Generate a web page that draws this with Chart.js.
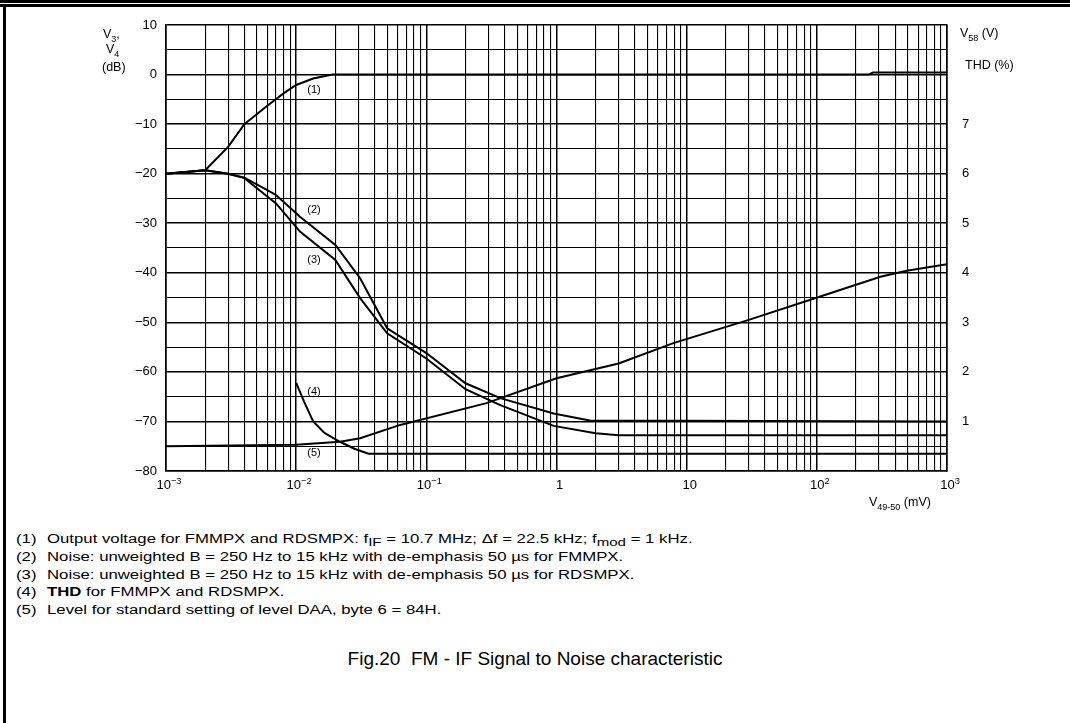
<!DOCTYPE html>
<html>
<head>
<meta charset="utf-8">
<script src="https://cdn.jsdelivr.net/npm/chart.js@4.4.1/dist/chart.umd.min.js"></script>
<style>
  body{margin:0;background:#fff;}
  #page{position:relative;width:1070px;height:723px;overflow:hidden;background:#fff;
        font-family:"Liberation Sans",Arial,Helvetica,sans-serif;color:#000;}
  .rule{position:absolute;background:#000;}
  #plot{position:absolute;left:0;top:0;}
  .note{position:absolute;font-size:12.5px;line-height:14px;white-space:nowrap;
        transform-origin:0 0;transform:scaleX(1.34);}
  .note sub{font-size:0.9em;vertical-align:-0.25em;line-height:0;}
  #title{position:absolute;left:0;top:648px;width:1070px;text-align:center;
         font-size:19px;line-height:21px;white-space:nowrap;}
</style>
</head>
<body>
<div id="page">
  <div class="rule" style="left:0;top:0;width:1070px;height:3px"></div>
  <div class="rule" style="left:0;top:4px;width:1070px;height:3px"></div>
  <div class="rule" style="left:3px;top:4px;width:3px;height:719px"></div>
  <canvas id="plot" width="1070" height="520"></canvas>

  <div class="note" style="left:16px;top:532px">(1)</div>
  <div class="note" style="left:47px;top:532px">Output voltage for FMMPX and RDSMPX: f<sub>IF</sub> = 10.7 MHz; &Delta;f = 22.5 kHz; f<sub>mod</sub> = 1 kHz.</div>
  <div class="note" style="left:16px;top:550px">(2)</div>
  <div class="note" style="left:47px;top:550px">Noise: unweighted B = 250 Hz to 15 kHz with de-emphasis 50 &micro;s for FMMPX.</div>
  <div class="note" style="left:16px;top:568px">(3)</div>
  <div class="note" style="left:47px;top:568px">Noise: unweighted B = 250 Hz to 15 kHz with de-emphasis 50 &micro;s for RDSMPX.</div>
  <div class="note" style="left:16px;top:585px">(4)</div>
  <div class="note" style="left:47px;top:585px"><b>THD</b> for FMMPX and RDSMPX.</div>
  <div class="note" style="left:16px;top:603px">(5)</div>
  <div class="note" style="left:47px;top:603px">Level for standard setting of level DAA, byte 6 = 84H.</div>

  <div id="title">Fig.20&nbsp;&nbsp;FM - IF Signal to Noise characteristic</div>
</div>

<script>
// V49-50 in mV (x), V3/V4 in dB (y)
const c1X = [0.001, 0.002, 0.003, 0.004, 0.006, 0.008, 0.01, 0.0135, 0.019, 250, 270, 1000];
const c1Y = [-20, -19.3, -14.6, -10, -6.3, -3.8, -2.1, -0.8, 0, 0, 0.4, 0.4];

const c2X = [0.001, 0.002, 0.003, 0.004, 0.006, 0.007, 0.0107, 0.02, 0.031, 0.05, 0.1, 0.2, 0.37, 0.95, 1.8, 1000];
const c2Y = [-20, -19.3, -20, -20.8, -23.3, -24.3, -28.7, -34.4, -41.1, -51.2, -56.2, -62.3, -65.3, -68.4, -69.8, -70];

const c3X = [0.001, 0.002, 0.003, 0.004, 0.006, 0.007, 0.0107, 0.02, 0.031, 0.05, 0.1, 0.2, 0.37, 0.95, 2.0, 3.0, 1000];
const c3Y = [-20, -19.3, -20, -20.9, -24.6, -26, -31.7, -37.4, -45.1, -52.2, -57.3, -63.5, -66.7, -70.9, -72.4, -72.8, -72.8];

const c4X = [0.01, 0.0115, 0.0135, 0.0165, 0.0217, 0.028, 0.036, 1000];
const c4Y = [-62.2, -66, -70, -72.3, -74.1, -75.5, -76.5, -76.5];

const c5X = [0.001, 0.01, 0.0217, 0.031, 0.063, 0.29, 1.0, 3.0, 7.9, 30, 98, 308, 490, 1000];
const c5Y = [-75, -74.7, -74.1, -73.4, -70.7, -66.3, -61.3, -58.3, -54.2, -49.5, -45.1, -40.8, -39.6, -38.3];

const curveNames = ['(1)', '(2)', '(3)', '(4)', '(5)'];
const curveLabelX = [0.0137, 0.0137, 0.0137, 0.0137, 0.0137];
const curveLabelY = [-3.1, -27.3, -37.4, -64.0, -76.4];

const xTickValues = [0.001, 0.01, 0.1, 1, 10, 100, 1000];
const xTickBase = ['10', '10', '10', '1', '10', '10', '10'];
const xTickExp = ['\u22123', '\u22122', '\u22121', '', '', '2', '3'];

const yMin = -80, yMax = 10;
// right axis: THD (%) labels sit on the -70 .. -10 dB lines
const thdDb = [-70, -60, -50, -40, -30, -20, -10];
const thdLabels = ['1', '2', '3', '4', '5', '6', '7'];

const FONT = '"Liberation Sans", Arial, Helvetica, sans-serif';

// every log grid line: 1..9 per decade
const gridX = [];
for(let e = -3; e < 3; e++){
    for(let m = 1; m < 10; m++){
        gridX.push(+(m * Math.pow(10, e)).toPrecision(3));
    }
}
gridX.push(1000);

function toPoints(xs, ys){
    return xs.map((v, i) => ({x: v, y: ys[i]}));
}

function drawRich(ctx, parts, x, y, size){
    let cx = x;
    parts.forEach(p => {
        const s = p.sub || p.sup ? size * 0.72 : size;
        ctx.font = s + 'px ' + FONT;
        const dy = p.sub ? size * 0.28 : (p.sup ? -size * 0.42 : 0);
        ctx.fillText(p.t, cx, y + dy);
        cx += ctx.measureText(p.t).width;
    });
    return cx - x;
}

function richWidth(ctx, parts, size){
    let w = 0;
    parts.forEach(p => {
        const s = p.sub || p.sup ? size * 0.72 : size;
        ctx.font = s + 'px ' + FONT;
        w += ctx.measureText(p.t).width;
    });
    return w;
}

const textPlugin = {
    id: 'texts',
    afterDraw(chart){
        const ctx = chart.ctx;
        const xs = chart.scales.x, ys = chart.scales.y;
        ctx.save();
        ctx.fillStyle = '#000';
        ctx.textBaseline = 'alphabetic';
        ctx.textAlign = 'left';

        // x tick labels with superscripts
        xTickValues.forEach((v, i) => {
            const parts = [{t: xTickBase[i]}];
            if(xTickExp[i]) parts.push({t: xTickExp[i], sup: true});
            const w = richWidth(ctx, parts, 13);
            const px = xs.getPixelForValue(v) + 3;
            drawRich(ctx, parts, px - w / 2, 489, 13);
        });

        // axis titles
        drawRich(ctx, [{t: 'V'}, {t: '3', sub: true}, {t: ','}], 103, 38, 12.5);
        drawRich(ctx, [{t: 'V'}, {t: '4', sub: true}], 106, 53, 12.5);
        drawRich(ctx, [{t: '(dB)'}], 102, 71, 12.5);
        drawRich(ctx, [{t: 'V'}, {t: '58', sub: true}, {t: ' (V)'}], 960, 37, 12.5);
        drawRich(ctx, [{t: 'THD (%)'}], 965, 69, 12.5);
        drawRich(ctx, [{t: 'V'}, {t: '49-50', sub: true}, {t: ' (mV)'}], 869, 506, 12.5);

        // curve labels
        ctx.font = '11px ' + FONT;
        ctx.textAlign = 'center';
        ctx.textBaseline = 'middle';
        curveNames.forEach((n, i) => {
            ctx.fillText(n, xs.getPixelForValue(curveLabelX[i]), ys.getPixelForValue(curveLabelY[i]));
        });
        ctx.restore();
    }
};

const curves = [[c1X, c1Y], [c2X, c2Y], [c3X, c3Y], [c4X, c4Y], [c5X, c5Y]];

new Chart(document.getElementById('plot'), {
    type: 'line',
    data: {
        datasets: curves.map((c, i) => ({
            label: curveNames[i],
            data: toPoints(c[0], c[1]),
            borderColor: '#000',
            borderWidth: 2,
            pointRadius: 0,
            tension: 0,
            fill: false
        }))
    },
    options: {
        responsive: false,
        animation: false,
        layout: {padding: {top: 25, left: 0, right: 0, bottom: 0}},
        plugins: {legend: {display: false}, tooltip: {enabled: false}},
        scales: {
            x: {
                type: 'logarithmic',
                min: 0.001,
                max: 1000,
                afterBuildTicks(s){ s.ticks = gridX.map(v => ({value: v})); },
                afterFit(s){ s.height = 49; },
                ticks: {display: false},
                grid: {
                    drawTicks: false,
                    color: '#000',
                    lineWidth: c => (xTickValues.includes(c.tick && c.tick.value) ? 1.5 : 1.1)
                },
                border: {display: true, color: '#000', width: 1.5}
            },
            y: {
                position: 'left',
                min: yMin,
                max: yMax,
                afterFit(s){ s.width = 166; },
                ticks: {
                    stepSize: 5,
                    autoSkip: false,
                    padding: 9,
                    color: '#000',
                    font: {family: FONT, size: 13},
                    callback: v => (v % 10 === 0 ? (v < 0 ? '\u2212' + (-v) : String(v)) : '')
                },
                grid: {
                    drawTicks: false,
                    color: '#000',
                    lineWidth: c => (c.tick && c.tick.value % 10 === 0 ? 1.5 : 1.1)
                },
                border: {display: true, color: '#000', width: 1.5}
            },
            y2: {
                position: 'right',
                display: true,
                min: yMin,
                max: yMax,
                afterFit(s){ s.width = 123; },
                ticks: {
                    stepSize: 10,
                    autoSkip: false,
                    padding: 15,
                    color: '#000',
                    font: {family: FONT, size: 13},
                    callback: v => {
                        const k = thdDb.indexOf(v);
                        return k >= 0 ? thdLabels[k] : '';
                    }
                },
                grid: {display: false, drawTicks: false},
                border: {display: true, color: '#000', width: 1.5}
            }
        }
    },
    plugins: [textPlugin]
});
</script>
</body>
</html>
